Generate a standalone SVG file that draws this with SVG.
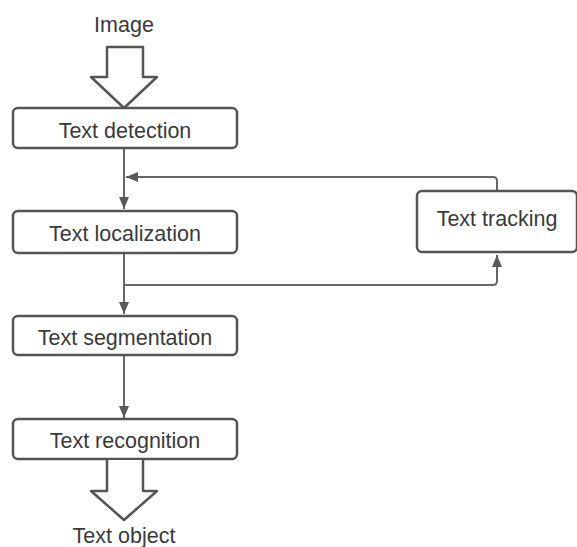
<svg xmlns="http://www.w3.org/2000/svg" width="577" height="547" viewBox="0 0 577 547">
<style>
.box{fill:#fff;stroke:#555;stroke-width:2.5}
.blk{fill:#fff;stroke:#555;stroke-width:2.5;stroke-linejoin:round}
.ln{fill:none;stroke:#666;stroke-width:2}
.t{font-family:"Liberation Sans",Arial,sans-serif;font-size:21.5px;fill:#3a3a3a;text-anchor:middle}
</style>
<defs>
<marker id="ah" viewBox="0 0 12 10" refX="12" refY="5" markerWidth="12" markerHeight="10" markerUnits="userSpaceOnUse" orient="auto">
<path d="M0,0 L12,5 L0,10 Z" fill="#5a5a5a"/>
</marker>
</defs>
<rect width="577" height="547" fill="#fff"/>
<g id="connectors">
<path class="ln" d="M124,149 V209" marker-end="url(#ah)"/>
<path class="ln" d="M497,191 V181 Q497,177 493,177 H126" marker-end="url(#ah)"/>
<path class="ln" d="M124,254 V314" marker-end="url(#ah)"/>
<path class="ln" d="M124,285 H493 Q497,285 497,281 V255" marker-end="url(#ah)"/>
<path class="ln" d="M124,356 V418" marker-end="url(#ah)"/>
</g>
<g id="image-input">
<text class="t" x="124" y="32">Image</text>
<path class="blk" d="M107,47 H143 V77 H157 L124,108 L91,77 H107 Z"/>
</g>
<g id="text-detection">
<rect class="box" x="13" y="108" width="224" height="40" rx="5"/>
<text class="t" x="125" y="138">Text detection</text>
</g>
<g id="text-localization">
<rect class="box" x="13" y="211" width="224" height="42" rx="5"/>
<text class="t" x="125" y="241">Text localization</text>
</g>
<g id="text-tracking">
<rect class="box" x="417" y="191" width="160" height="61" rx="5"/>
<text class="t" x="497" y="226">Text tracking</text>
</g>
<g id="text-segmentation">
<rect class="box" x="13" y="316" width="224" height="39" rx="5"/>
<text class="t" x="125" y="345">Text segmentation</text>
</g>
<g id="text-recognition">
<rect class="box" x="13" y="419" width="224" height="40" rx="5"/>
<text class="t" x="125" y="448">Text recognition</text>
</g>
<g id="text-object">
<path class="blk" d="M107,460 V491 H91 L124,520 L157,491 H143 V460"/>
<text class="t" x="124" y="543">Text object</text>
</g>
</svg>
